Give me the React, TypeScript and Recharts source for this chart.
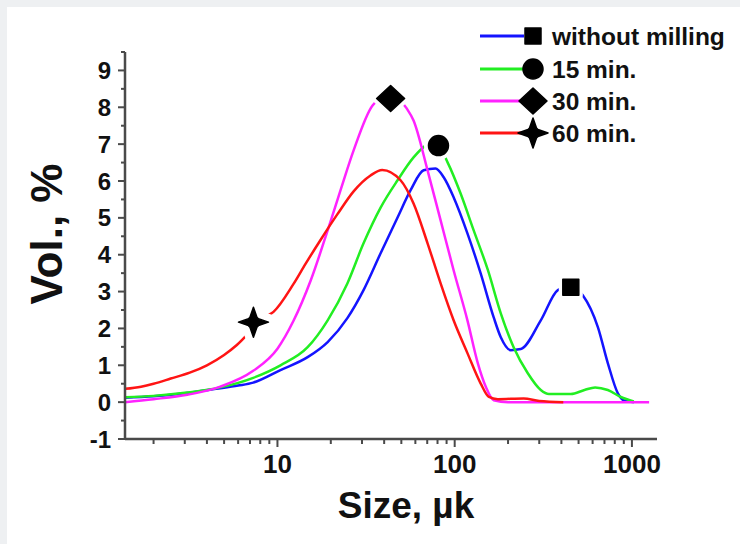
import React from 'react';
import { ComposedChart, Line, Scatter, XAxis, YAxis } from 'recharts';

// particle size (µm, log axis) and volume % for each milling time
const sizeNoMill = [1.38, 2.0, 3.0, 4.5, 6.0, 7.3, 10.4, 14.8, 19.2, 24.8, 30.6, 38.2, 47.6, 56.4, 66.8, 78, 86.7, 98.6, 118, 140, 166, 182, 207, 236, 306, 382, 452, 528, 643, 731, 833, 902, 1025];
const volNoMill = [0.12, 0.16, 0.24, 0.36, 0.45, 0.53, 0.87, 1.22, 1.63, 2.28, 3.04, 4.04, 5.01, 5.75, 6.29, 6.34, 6.1, 5.56, 4.58, 3.5, 2.3, 1.76, 1.41, 1.44, 2.22, 3.04, 3.15, 2.9, 2.03, 1.06, 0.24, 0.05, 0.0];

const size15 = [1.38, 2.0, 3.1, 4.76, 7.3, 10.4, 14.8, 19.2, 24.8, 30.6, 38.2, 47.6, 58.6, 68.5, 78, 91.3, 108, 128, 154, 182, 215, 258, 306, 340, 452, 540, 620, 731, 866, 1025];
const vol15 = [0.13, 0.17, 0.26, 0.4, 0.66, 1.0, 1.49, 2.22, 3.22, 4.31, 5.28, 6.02, 6.64, 6.96, 7.05, 6.5, 5.66, 4.66, 3.58, 2.41, 1.49, 0.79, 0.33, 0.22, 0.22, 0.33, 0.4, 0.33, 0.14, 0.02];

const size30 = [1.38, 2.0, 3.1, 4.76, 7.3, 10, 12.3, 15.4, 19.2, 22.7, 26.9, 34.4, 43, 53.6, 58.6, 70.3, 83.3, 98.6, 118, 135, 150, 166, 200, 1250];
const vol30 = [0.0, 0.08, 0.2, 0.42, 0.85, 1.45, 2.2, 3.3, 4.66, 5.75, 6.83, 8.05, 8.35, 7.97, 7.64, 6.29, 4.93, 3.58, 2.22, 1.06, 0.41, 0.05, 0.0, 0.0];

const size60 = [1.38, 1.7, 2.0, 2.5, 3.2, 4.0, 5.0, 5.9, 7.3, 8.5, 9.5, 12.3, 14.4, 17.5, 21.8, 26.9, 33.5, 39, 49.5, 58.6, 70.3, 83.3, 98.6, 118, 140, 156, 175, 245, 300, 410];
const vol60 = [0.36, 0.42, 0.5, 0.64, 0.8, 1.0, 1.28, 1.55, 2.0, 2.3, 2.45, 3.2, 3.75, 4.4, 5.1, 5.72, 6.15, 6.3, 6.02, 5.39, 4.31, 3.22, 2.22, 1.33, 0.51, 0.14, 0.08, 0.1, 0.03, 0.0];

// one symbol per curve: [size, vol]
const markNoMill = [452, 3.12];
const mark15 = [81, 6.96];
const mark30 = [43.5, 8.24];
const mark60 = [7.32, 2.17];

const seriesNames = ['without milling', '15 min.', '30 min.', '60 min.'];
const xTicks = [2, 3, 4, 5, 6, 7, 8, 9, 10, 20, 30, 40, 50, 60, 70, 80, 90, 100, 200, 300, 400, 500, 600, 700, 800, 900, 1000];
const yTicks = [-1, -0.5, 0, 0.5, 1, 1.5, 2, 2.5, 3, 3.5, 4, 4.5, 5, 5.5, 6, 6.5, 7, 7.5, 8, 8.5, 9, 9.5];

const COLORS = ['#1414ff', '#22ee22', '#ff22ff', '#ff1414']; // blue, green, magenta, red
const FONT = '"Liberation Sans", Arial, sans-serif';
const AXIS = '#4a4a4a';

const toPoints = (xs: number[], ys: number[]) => xs.map((s, i) => ({ size: s, vol: ys[i] }));

const symbolPath = (kind: string) => {
  switch (kind) {
    case 'square':
      return 'M-8,-8 L8,-8 L8,8 L-8,8 Z';
    case 'diamond':
      return 'M0,-13 L14,0 L0,13 L-14,0 Z';
    case 'star':
      return 'M0,-15 L3.5,-5 L5,-3.5 L15,0 L5,3.5 L3.5,5 L0,15 L-3.5,5 L-5,3.5 L-15,0 L-5,-3.5 L-3.5,-5 Z';
    default:
      return 'M-10,0 A10,10 0 1,0 10,0 A10,10 0 1,0 -10,0 Z';
  }
};

const Symbol = ({ kind, x, y, halo }: { kind: string; x: number; y: number; halo?: number }) => (
  <g transform={`translate(${x},${y})`}>
    {halo ? <path d={symbolPath(kind)} fill="#fff" stroke="#fff" strokeWidth={halo} strokeLinejoin="round" /> : null}
    <path d={symbolPath(kind)} fill="#000" stroke="#000" strokeWidth={1.5} strokeLinejoin="round" />
  </g>
);

const makeShape = (kind: string, halo: number) => (props: any) => <Symbol kind={kind} x={props.cx} y={props.cy} halo={halo} />;

const XTick = (props: any) => {
  const { x, y, payload } = props;
  const major = [10, 100, 1000].includes(payload.value);
  return (
    <g>
      <line x1={x} x2={x} y1={y} y2={y + (major ? 8 : 5)} stroke={AXIS} strokeWidth={2} />
      {major && (
        <text x={x} y={y + 34} textAnchor="middle" fontFamily={FONT} fontWeight="bold" fontSize={26} fill="#111">
          {payload.value}
        </text>
      )}
    </g>
  );
};

const YTick = (props: any) => {
  const { x, y, payload } = props;
  const major = Number.isInteger(payload.value);
  return (
    <g>
      <line x1={x} x2={x - (major ? 7 : 4)} y1={y} y2={y} stroke={AXIS} strokeWidth={2} />
      {major && (
        <text x={x - 14} y={y + 8.5} textAnchor="end" fontFamily={FONT} fontWeight="bold" fontSize={24} fill="#111">
          {payload.value}
        </text>
      )}
    </g>
  );
};

const kinds = ['square', 'circle', 'diamond', 'star'];
const halos = [8, 9, 9, 16];

const App = () => {
  const lines = [
    toPoints(sizeNoMill, volNoMill),
    toPoints(size15, vol15),
    toPoints(size30, vol30),
    toPoints(size60, vol60),
  ];
  const marks = [markNoMill, mark15, mark30, mark60].map(m => [{ size: m[0], vol: m[1] }]);
  const legendRows = [36, 69, 101, 133];

  return (
    <div style={{ position: 'relative', width: 740, height: 544, background: '#eef0f2', overflow: 'hidden' }}>
      <style>{'body{margin:0}'}</style>
      <div style={{ position: 'absolute', left: 7, top: 7, width: 733, height: 537, background: '#fff' }} />
      <div style={{ position: 'absolute', left: 0, top: 0 }}>
        <ComposedChart width={740} height={544} margin={{ top: 52, right: 83, bottom: 0, left: 0 }}>
          <XAxis
            type="number"
            dataKey="size"
            scale="log"
            domain={[1.38, 1385]}
            allowDataOverflow
            ticks={xTicks}
            interval={0}
            tick={<XTick />}
            tickLine={false}
            tickSize={0}
            tickMargin={0}
            height={105}
            axisLine={{ stroke: AXIS, strokeWidth: 2.5 }}
          />
          <YAxis
            type="number"
            domain={[-1, 9.5]}
            allowDataOverflow
            ticks={yTicks}
            interval={0}
            tick={<YTick />}
            tickLine={false}
            tickSize={0}
            tickMargin={0}
            width={125}
            axisLine={{ stroke: AXIS, strokeWidth: 2.5 }}
          />
          {lines.map((d, i) => (
            <Line
              key={seriesNames[i]}
              data={d}
              dataKey="vol"
              type="monotone"
              stroke={COLORS[i]}
              strokeWidth={2.5}
              dot={false}
              activeDot={false}
              isAnimationActive={false}
            />
          ))}
          {marks.map((d, i) => (
            <Scatter
              key={'m' + i}
              data={d}
              dataKey="vol"
              shape={makeShape(kinds[i], halos[i])}
              isAnimationActive={false}
            />
          ))}
        </ComposedChart>
      </div>
      <svg width={740} height={544} style={{ position: 'absolute', left: 0, top: 0, pointerEvents: 'none' }}>
        <text
          x={62}
          y={234}
          transform="rotate(-90 62 234)"
          textAnchor="middle"
          fontFamily={FONT}
          fontWeight="bold"
          fontSize={44}
          fill="#111"
        >
          Vol., %
        </text>
        <text x={406} y={518} textAnchor="middle" fontFamily={FONT} fontWeight="bold" fontSize={37} fill="#111">
          Size, µk
        </text>
        {seriesNames.map((name, i) => (
          <g key={name}>
            <line x1={480} x2={524} y1={legendRows[i]} y2={legendRows[i]} stroke={COLORS[i]} strokeWidth={3} />
            <Symbol kind={kinds[i]} x={533} y={legendRows[i]} />
            <text
              x={552}
              y={legendRows[i] + 8.5}
              fontFamily={FONT}
              fontWeight="bold"
              fontSize={24.5}
              fill="#111"
            >
              {name}
            </text>
          </g>
        ))}
      </svg>
    </div>
  );
};

export default App;
